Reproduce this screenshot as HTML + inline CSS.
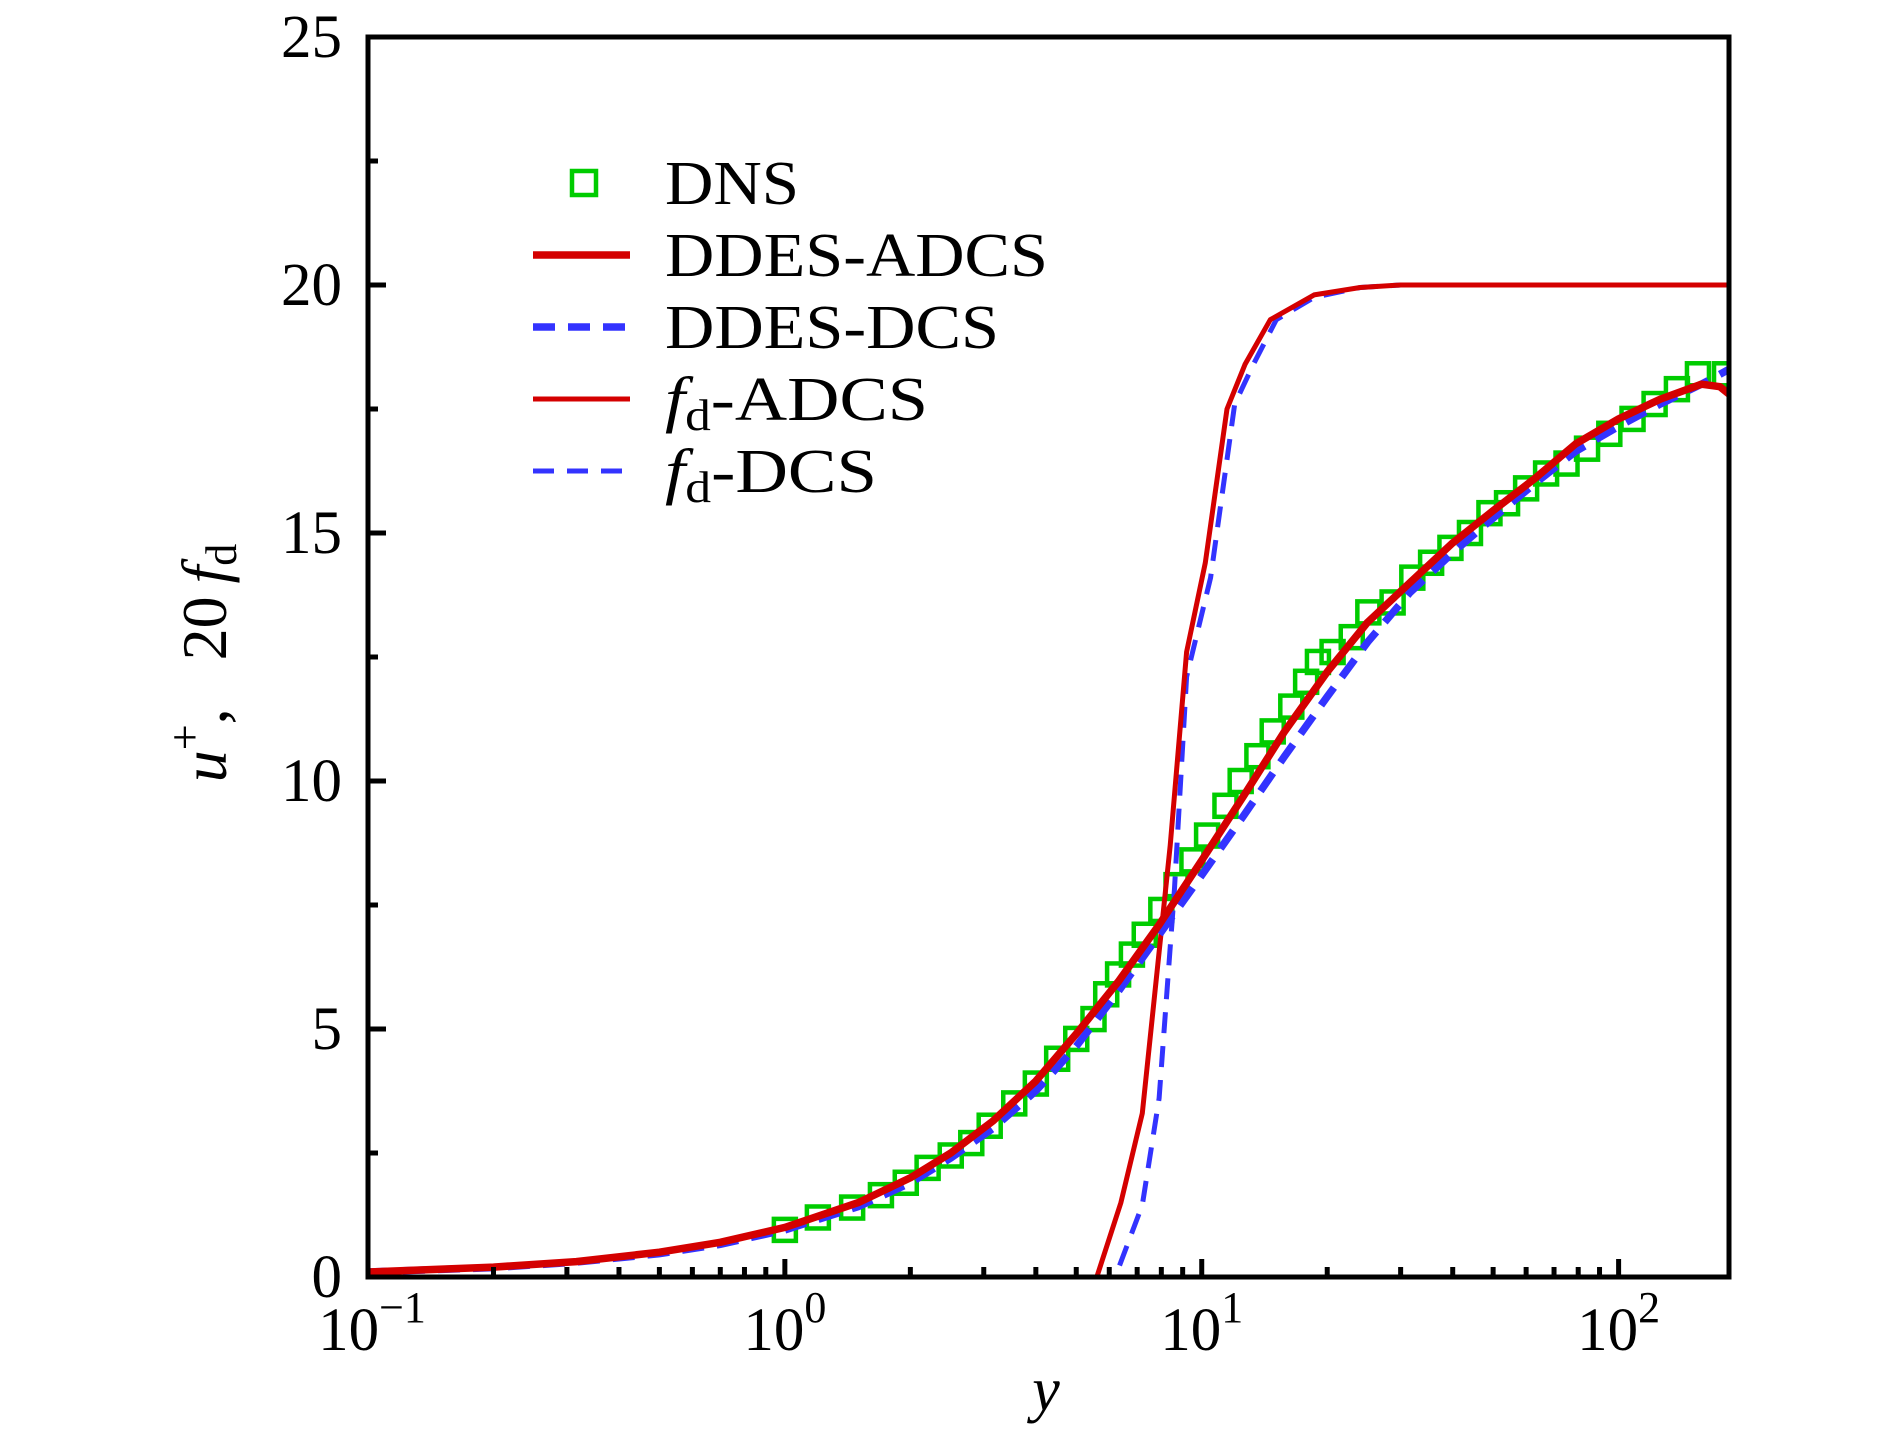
<!DOCTYPE html>
<html><head><meta charset="utf-8">
<style>
html,body{margin:0;padding:0;background:#fff;}
svg{display:block;font-family:"Liberation Serif","DejaVu Serif",serif;}
</style></head>
<body>
<svg id="chart" width="1890" height="1441" viewBox="0 0 1890 1441" xmlns="http://www.w3.org/2000/svg">
  <defs><clipPath id="clip"><rect x="368" y="37" width="1361" height="1240"/></clipPath></defs>
  <g id="series" clip-path="url(#clip)"></g>
  <g id="axes"></g>
  <g id="legend"></g>
</svg>
<script>
// ---- data ----
const xDomain = [0.1, 184];
const yDomain = [0, 25];
const yTickValues = [0, 5, 10, 15, 20, 25];
const yTickLabels = ["0", "5", "10", "15", "20", "25"];
const yMinorTicks = [2.5, 7.5, 12.5, 17.5, 22.5];
const xDecades = [-1, 0, 1, 2];

const uY = [0.1, 0.2, 0.316, 0.5, 0.7, 1, 1.5, 2, 2.5, 3.16, 4, 5, 6.3, 7.9, 10, 12.6, 15.8, 20, 25, 31.6, 40, 50, 63, 79, 100, 126, 158, 175, 184];
const ddesAdcs = [0.1, 0.2, 0.31, 0.5, 0.7, 1.0, 1.5, 2.0, 2.5, 3.15, 3.95, 4.9, 5.95, 7.1, 8.4, 9.7, 11.0, 12.2, 13.2, 14.0, 14.8, 15.45, 16.1, 16.8, 17.3, 17.7, 18.0, 17.95, 17.8];
const ddesDcs  = [0.1, 0.19, 0.3, 0.47, 0.66, 0.95, 1.42, 1.9, 2.4, 3.0, 3.75, 4.65, 5.75, 6.9, 8.1, 9.3, 10.5, 11.7, 12.8, 13.8, 14.6, 15.3, 16.0, 16.65, 17.15, 17.6, 18.0, 18.2, 18.3];

const fdY = [4.5, 5.6, 6.4, 7.2, 8.4, 9.2, 10.2, 11.5, 12.7, 14.6, 18.6, 24, 30, 60, 184];
const fdAdcs = [0, 0, 1.5, 3.3, 8.7, 12.6, 14.4, 17.5, 18.4, 19.3, 19.8, 19.95, 20, 20, 20];
const fdDcsY = [5.5, 6.2, 7.2, 7.9, 8.6, 9.2, 10.5, 12.0, 13.3, 15.1, 18.6, 24, 30, 60, 184];
const fdDcs = [0, 0, 1.45, 3.6, 7.8, 12.1, 14.1, 17.6, 18.4, 19.3, 19.75, 19.95, 20, 20, 20];

const dnsY = [1.0,1.2,1.45,1.7,1.95,2.2,2.5,2.8,3.1,3.55,4.0,4.5,5.0,5.5,5.9,6.3,6.8,7.3,8.0,8.7,9.5,10.3,11.4,12.4,13.6,14.8,16.4,17.8,19.0,20.6,22.9,25.1,28.7,32,35.5,39.5,44,49,54,60,67,75,84,95,108,122,138,155,180];
const dnsU = [0.95,1.2,1.4,1.65,1.9,2.2,2.45,2.7,3.05,3.5,3.9,4.4,4.8,5.2,5.7,6.1,6.5,6.9,7.4,7.9,8.4,8.9,9.5,10.0,10.5,11.0,11.5,12.0,12.4,12.6,12.9,13.4,13.6,14.1,14.4,14.7,15.0,15.4,15.6,15.9,16.2,16.4,16.7,17.0,17.3,17.6,17.9,18.2,18.2];

// ---- scales ----
const L = 368, R = 1729, T = 37, B = 1277;
const sx = v => L + (Math.log10(v) - Math.log10(xDomain[0])) / (Math.log10(xDomain[1]) - Math.log10(xDomain[0])) * (R - L);
const sy = v => B - (v - yDomain[0]) / (yDomain[1] - yDomain[0]) * (B - T);
const NS = "http://www.w3.org/2000/svg";
const mk = (tag, attrs, parent) => { const e = document.createElementNS(NS, tag); for (const k in attrs) e.setAttribute(k, attrs[k]); parent.appendChild(e); return e; };
const series = document.getElementById('series');
const axes = document.getElementById('axes');
const legend = document.getElementById('legend');
const RED = "#d40000", BLUE = "#3333ff", GREEN = "#00cc00";
const pts = (xs, ys) => xs.map((x, i) => sx(x).toFixed(1) + "," + sy(ys[i]).toFixed(1)).join(" ");

// DNS squares
dnsY.forEach((x, i) => {
  const r = mk('rect', {x: sx(x) - 11, y: sy(dnsU[i]) - 11, width: 22, height: 22, fill: "none", stroke: GREEN, "stroke-width": 4.5}, series);
  
  
});
let p;
p = mk('polyline', {points: pts(fdDcsY, fdDcs), fill: "none", stroke: BLUE, "stroke-width": 5, "stroke-dasharray": "21 13"}, series);


p = mk('polyline', {points: pts(fdY, fdAdcs), fill: "none", stroke: RED, "stroke-width": 5, "stroke-linejoin": "round"}, series);


p = mk('polyline', {points: pts(uY, ddesDcs), fill: "none", stroke: BLUE, "stroke-width": 7.5, "stroke-dasharray": "22 13"}, series);


p = mk('polyline', {points: pts(uY, ddesAdcs), fill: "none", stroke: RED, "stroke-width": 7.5, "stroke-linejoin": "round"}, series);



// frame
const fr = mk('rect', {x: L, y: T, width: R - L, height: B - T, fill: "none", stroke: "#000", "stroke-width": 5}, axes);



// y ticks
yTickValues.forEach((v, i) => {
  const y = sy(v);
  const t = mk('line', {x1: L, x2: L + 18, y1: y, y2: y, stroke: "#000", "stroke-width": 5}, axes);
  
  
  const tx = mk('text', {x: 342, y: y + 20, "text-anchor": "end", "font-size": 61}, axes);
  tx.textContent = yTickLabels[i];
  
  
});
yMinorTicks.forEach(v => {
  const t = mk('line', {x1: L, x2: L + 10, y1: sy(v), y2: sy(v), stroke: "#000", "stroke-width": 5}, axes);
  
  
});
// x ticks
xDecades.forEach(d => {
  for (let m = 1; m <= 9; m++) {
    const v = m * Math.pow(10, d);
    if (v < xDomain[0] || v > xDomain[1]) continue;
    const x = sx(v);
    const t = mk('line', {x1: x, x2: x, y1: B, y2: B - (m === 1 ? 18 : 10), stroke: "#000", "stroke-width": 5}, axes);
    
    
  }
  const tx = mk('text', {x: sx(Math.pow(10, d)) + (d < 0 ? 4 : 0), y: 1350, "text-anchor": "middle", "font-size": 61}, axes);
  
  
  const a = mk('tspan', {}, tx); a.textContent = "10";
  const b = mk('tspan', {dy: -28, "font-size": 44}, tx); b.textContent = d < 0 ? "\u2212" + (-d) : String(d);
});

// axis titles
const xt = mk('text', {x: 1046, y: 1410, "text-anchor": "middle", "font-size": 62, "font-style": "italic"}, axes);
xt.textContent = "y";


const yt = mk('text', {x: 0, y: 0, "text-anchor": "middle", "font-size": 64, transform: "translate(226,663) rotate(-90)"}, axes);


let s;
s = mk('tspan', {"font-style": "italic"}, yt); s.textContent = "u";
s = mk('tspan', {dy: -26, "font-size": 46}, yt); s.textContent = "+";
s = mk('tspan', {dy: 26}, yt); s.textContent = ",\u2002 20";
s = mk('tspan', {"font-style": "italic"}, yt); s.textContent = "\u2009f";
s = mk('tspan', {dy: 10, "font-size": 44}, yt); s.textContent = "d";

// legend
const items = [
  {name: "DNS", kind: "marker", len: 134},
  {name: "DDES-ADCS", kind: "line", color: RED, w: 7.5, dash: null, len: 383},
  {name: "DDES-DCS", kind: "line", color: BLUE, w: 7.5, dash: "22 13", len: 334},
  {name: "fd-ADCS", kind: "line", color: RED, w: 5, dash: null, fd: "-ADCS", len: 263},
  {name: "fd-DCS", kind: "line", color: BLUE, w: 5, dash: "21 13", fd: "-DCS", len: 212}
];
items.forEach((it, i) => {
  const y = 183 + i * 72;
  const g = mk('g', {}, legend);
  
  
  if (it.kind === "marker") {
    mk('rect', {x: 572, y: y - 12, width: 24, height: 24, fill: "none", stroke: GREEN, "stroke-width": 4.5}, g);
  } else {
    const a = {x1: 533, x2: 630, y1: y, y2: y, stroke: it.color, "stroke-width": it.w};
    if (it.dash) a["stroke-dasharray"] = it.dash;
    mk('line', a, g);
  }
  const t = mk('text', {x: 665, y: y + 21, "font-size": 62, textLength: it.len, lengthAdjust: "spacingAndGlyphs"}, g);
  if (it.fd) {
    let q = mk('tspan', {"font-style": "italic"}, t); q.textContent = "f";
    q = mk('tspan', {dy: 10, "font-size": 44}, t); q.textContent = "d";
    q = mk('tspan', {dy: -10}, t); q.textContent = it.fd;
  } else {
    t.textContent = it.name;
  }
});
</script>
</body></html>
